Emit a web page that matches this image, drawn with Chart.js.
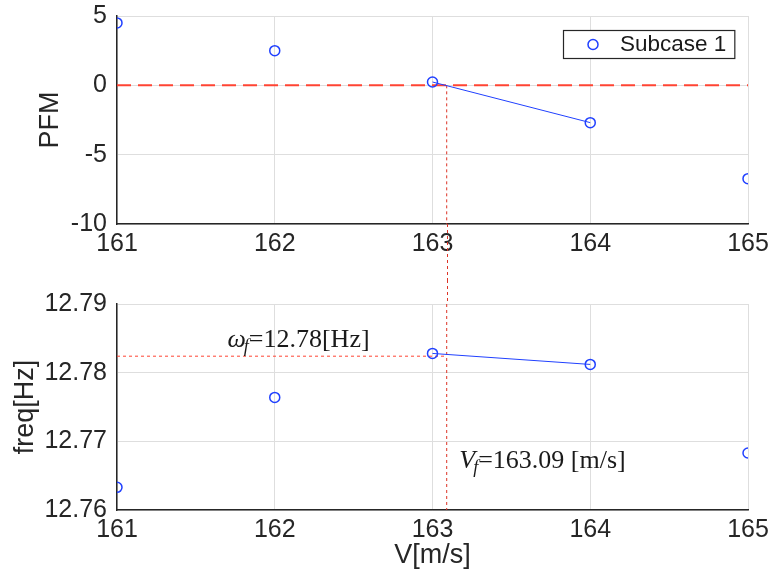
<!DOCTYPE html>
<html>
<head>
<meta charset="utf-8">
<script src="https://cdn.jsdelivr.net/npm/chart.js@4.4.1/dist/chart.umd.min.js"></script>
<style>
  html, body { margin: 0; padding: 0; background: #fff; }
  #wrap { position: relative; width: 771px; height: 578px; }
  #pfmChart { position: absolute; left: 0; top: 0; }
  #freqChart { position: absolute; left: 0; top: 280px; }
</style>
</head>
<body>
<div id="wrap">
  <canvas id="pfmChart" width="771" height="280"></canvas>
  <canvas id="freqChart" width="771" height="298"></canvas>
</div>
<script>
// data
const speeds = [161, 162, 163, 164, 165];
const pfmValues = [4.5, 2.5, 0.24, -2.69, -6.73];
const freqValues = [12.7633, 12.7764, 12.7828, 12.7812, 12.7683];
const speedTicks = [161, 162, 163, 164, 165];
const pfmTicks = [-10, -5, 0, 5];
const freqTicks = [12.76, 12.77, 12.78, 12.79];
const flutterSpeed = 163.09;
const flutterFreq = 12.7824;
const seriesLabel = 'Subcase 1';

const blue = '#2040ff';
const red = '#ff4433';
const dotRed = '#dd3326';
const axisColor = '#262626';
const gridColor = '#dedede';
const sansFamily = '"Liberation Sans", Arial, Helvetica, sans-serif';

Chart.defaults.font.family = sansFamily;
Chart.defaults.color = axisColor;

const pts = (xs, ys) => xs.map((x, i) => ({ x: x, y: ys[i] }));

// the two points bracketing PFM = 0
let k = 0;
while (k < pfmValues.length - 1 && !(pfmValues[k] >= 0 && pfmValues[k + 1] < 0)) k++;
const bracket = [k, k + 1];

function fixedTicks(list) {
  return (scale) => { scale.ticks = list.map((v) => ({ value: v })); };
}

function xScale(height, withTitle) {
  return {
    type: 'linear',
    min: speedTicks[0],
    max: speedTicks[speedTicks.length - 1],
    afterBuildTicks: fixedTicks(speedTicks),
    afterFit: (s) => { s.height = height; s.paddingLeft = 0; s.paddingRight = 0; },
    grid: { color: gridColor, drawTicks: false },
    border: { color: axisColor, width: 1.5 },
    ticks: { padding: 5, font: { size: 25 } },
    title: {
      display: withTitle,
      text: 'V[m/s]',
      font: { size: 27 },
      padding: { top: 0, bottom: 6 },
    },
  };
}

function yScale(list, title, titlePad, fmt) {
  return {
    type: 'linear',
    min: list[0],
    max: list[list.length - 1],
    afterBuildTicks: fixedTicks(list),
    afterFit: (s) => { s.width = 117; s.paddingTop = 0; s.paddingBottom = 0; },
    grid: { color: gridColor, drawTicks: false },
    border: { color: axisColor, width: 1.5 },
    ticks: { padding: 10, font: { size: 25 }, callback: fmt },
    title: {
      display: true,
      text: title,
      font: { size: 27 },
      padding: { top: titlePad, bottom: 0 },
    },
  };
}

function vLine(ctx, x, y0, y1) {
  ctx.save();
  ctx.strokeStyle = dotRed;
  ctx.lineWidth = 1;
  ctx.setLineDash([3, 3]);
  ctx.beginPath();
  ctx.moveTo(Math.round(x) + 0.5, y0);
  ctx.lineTo(Math.round(x) + 0.5, y1);
  ctx.stroke();
  ctx.restore();
}

// legend box like the matlab one
const boxedLegend = {
  id: 'boxedLegend',
  afterDraw(chart) {
    const { ctx, chartArea } = chart;
    ctx.save();
    ctx.font = '22.5px ' + sansFamily;
    const tw = ctx.measureText(seriesLabel).width;
    const w = 57 + tw + 8;
    const h = 28;
    const x = Math.round(chartArea.right - 14 - w);
    const y = Math.round(chartArea.top + 14);
    ctx.fillStyle = '#fff';
    ctx.fillRect(x, y, w, h);
    ctx.strokeStyle = axisColor;
    ctx.lineWidth = 1.2;
    ctx.strokeRect(x + 0.5, y + 0.5, w, h);
    ctx.beginPath();
    ctx.arc(x + 30, y + h / 2 + 0.5, 5, 0, Math.PI * 2);
    ctx.strokeStyle = blue;
    ctx.lineWidth = 1.5;
    ctx.stroke();
    ctx.fillStyle = '#1a1a1a';
    ctx.textBaseline = 'middle';
    ctx.fillText(seriesLabel, x + 57, y + h / 2 + 1);
    ctx.restore();
  },
};

// dotted flutter-speed line continued through the gap between the plots
const gapLineTop = {
  id: 'gapLineTop',
  afterDatasetsDraw(chart) {
    const x = chart.scales.x.getPixelForValue(flutterSpeed);
    vLine(chart.ctx, x, chart.chartArea.bottom, chart.height);
  },
};
const gapLineBottom = {
  id: 'gapLineBottom',
  afterDatasetsDraw(chart) {
    const x = chart.scales.x.getPixelForValue(flutterSpeed);
    vLine(chart.ctx, x, 0, chart.chartArea.top);
  },
};

function mathLabel(ctx, x, y, sym, rest) {
  ctx.font = 'italic 26px "Liberation Serif", "Times New Roman", serif';
  ctx.fillText(sym, x, y);
  let cx = x + ctx.measureText(sym).width;
  ctx.font = 'italic 18px "Liberation Serif", "Times New Roman", serif';
  ctx.fillText('f', cx - 2, y + 5);
  cx += ctx.measureText('f').width - 2;
  ctx.font = '26px "Liberation Serif", "Times New Roman", serif';
  ctx.fillText(rest, cx, y);
}

const flutterText = {
  id: 'flutterText',
  afterDraw(chart) {
    const { ctx, scales } = chart;
    ctx.save();
    ctx.fillStyle = '#1a1a1a';
    ctx.textBaseline = 'alphabetic';
    mathLabel(ctx, scales.x.getPixelForValue(161.7), scales.y.getPixelForValue(12.7838),
      '\u03c9', '=' + flutterFreq.toFixed(2) + '[Hz]');
    mathLabel(ctx, scales.x.getPixelForValue(163.17), scales.y.getPixelForValue(12.7661),
      'V', '=' + flutterSpeed.toFixed(2) + ' [m/s]');
    ctx.restore();
  },
};

const markerSet = (data) => ({
  label: seriesLabel,
  data: data,
  showLine: false,
  pointStyle: 'circle',
  pointRadius: 5,
  pointBorderWidth: 1.5,
  borderColor: blue,
  pointBackgroundColor: 'rgba(0,0,0,0)',
});

const segmentSet = (data) => ({
  data: bracket.map((i) => data[i]),
  showLine: true,
  borderColor: blue,
  borderWidth: 1,
  pointRadius: 0,
});

const baseOptions = {
  responsive: false,
  devicePixelRatio: 1,
  animation: false,
  events: [],
  plugins: { legend: { display: false }, tooltip: { enabled: false } },
};

const pfmPts = pts(speeds, pfmValues);
new Chart(document.getElementById('pfmChart'), {
  type: 'scatter',
  data: {
    datasets: [
      markerSet(pfmPts),
      segmentSet(pfmPts),
      {
        data: [{ x: flutterSpeed, y: 0 }, { x: flutterSpeed, y: pfmTicks[0] }],
        showLine: true, borderColor: dotRed, borderWidth: 1, borderDash: [3, 3], pointRadius: 0,
      },
      {
        data: [{ x: speedTicks[0], y: 0 }, { x: speedTicks[speedTicks.length - 1], y: 0 }],
        showLine: true, borderColor: red, borderWidth: 2, borderDash: [14, 7], pointRadius: 0,
      },
    ],
  },
  options: Object.assign({}, baseOptions, {
    layout: { padding: { top: 16, right: 23, left: 0, bottom: 0 } },
    scales: {
      x: xScale(56, false),
      y: yScale(pfmTicks, 'PFM', 34, (v) => String(v)),
    },
  }),
  plugins: [gapLineTop, boxedLegend],
});

const freqPts = pts(speeds, freqValues);
new Chart(document.getElementById('freqChart'), {
  type: 'scatter',
  data: {
    datasets: [
      markerSet(freqPts),
      segmentSet(freqPts),
      {
        data: [{ x: flutterSpeed, y: freqTicks[freqTicks.length - 1] }, { x: flutterSpeed, y: freqTicks[0] }],
        showLine: true, borderColor: dotRed, borderWidth: 1, borderDash: [3, 3], pointRadius: 0,
      },
      {
        data: [{ x: speedTicks[0], y: flutterFreq }, { x: flutterSpeed, y: flutterFreq }],
        showLine: true, borderColor: red, borderWidth: 1, borderDash: [3, 3], pointRadius: 0,
      },
    ],
  },
  options: Object.assign({}, baseOptions, {
    layout: { padding: { top: 24, right: 23, left: 0, bottom: 0 } },
    scales: {
      x: xScale(68, true),
      y: yScale(freqTicks, 'freq[Hz]', 9, (v) => v.toFixed(2)),
    },
  }),
  plugins: [gapLineBottom, flutterText],
});
</script>
</body>
</html>
